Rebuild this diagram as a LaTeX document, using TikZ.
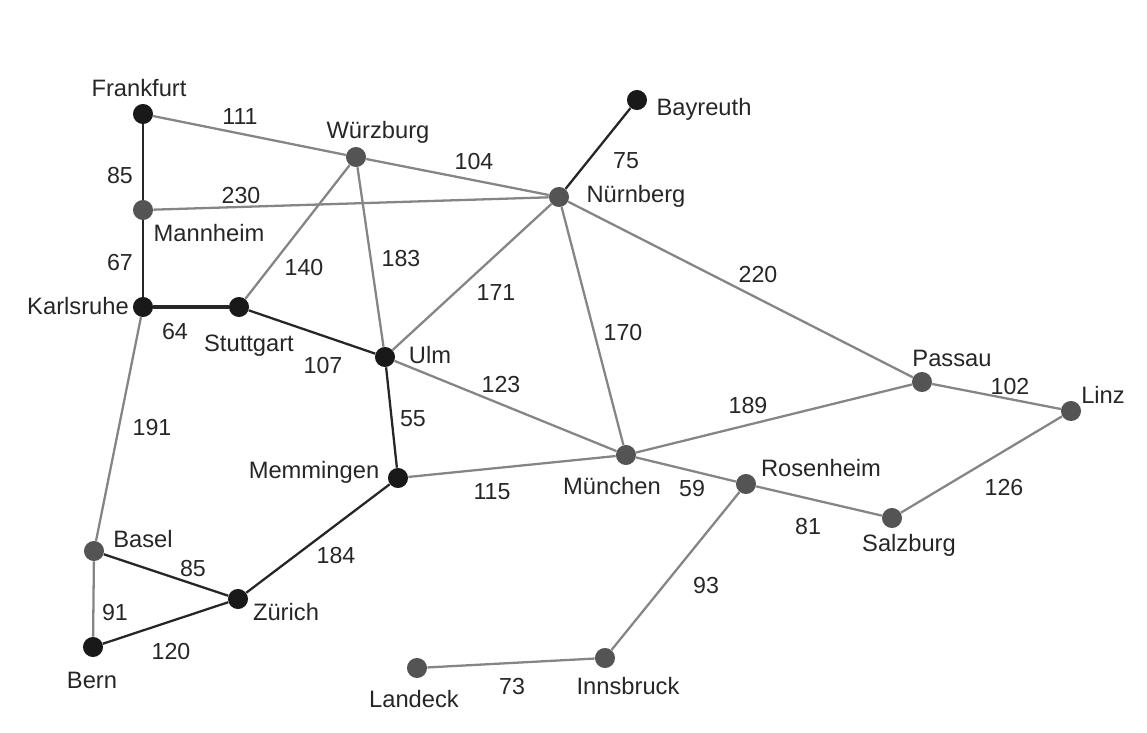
\documentclass[tikz,border=0pt]{standalone}
\usepackage{fontspec}
\setmainfont{Liberation Sans}
\usetikzlibrary{positioning}
\definecolor{roadgray}{gray}{0.52}
\definecolor{citygray}{gray}{0.33}
\definecolor{cityblack}{gray}{0.1}
\tikzset{
  city/.style={
    circle,
    fill=citygray,
    inner sep=0pt,
    minimum size=11.4pt},
  darkcity/.style={
    city,
    fill=cityblack},
  road/.style={draw=roadgray, line width=1.3pt},
  darkroad/.style={draw=black!85, line width=1.3pt},
  citylabel/.style={font=\fontsize{13.5}{15}\selectfont, text=black!85, inner sep=0pt, yshift=-0.8pt},
  distlabel/.style={font=\fontsize{13.2}{15}\selectfont, text=black!85, inner sep=0pt, yshift=-0.6pt},
}

\begin{document}
\begin{tikzpicture}[x=0.02cm,y=-0.02cm]
\useasboundingbox (0,0) rectangle (1147,733);
% cities
\node[darkcity] (Frankfurt) at (143,114) {};
\node[city] (Mannheim) at (143,210) {};
\node[darkcity] (Karlsruhe) at (143,307) {};
\node[darkcity] (Stuttgart) at (239,307) {};
\node[city] (Wuerzburg) at (356,157) {};
\node[city] (Nuernberg) at (559,197) {};
\node[darkcity] (Bayreuth) at (637,100) {};
\node[darkcity] (Ulm) at (385,357) {};
\node[darkcity] (Memmingen) at (398,478) {};
\node[city] (Muenchen) at (626,455) {};
\node[city] (Passau) at (922,382) {};
\node[city] (Linz) at (1071,411) {};
\node[city] (Rosenheim) at (746,484) {};
\node[city] (Salzburg) at (892,518) {};
\node[city] (Innsbruck) at (605,658) {};
\node[city] (Landeck) at (417,668) {};
\node[city] (Basel) at (94,551) {};
\node[darkcity] (Bern) at (93,647) {};
\node[darkcity] (Zuerich) at (238,599) {};

% roads
\draw[darkroad] (Frankfurt) -- (Mannheim);
\draw[darkroad] (Mannheim) -- (Karlsruhe);
\draw[darkroad, line width=2pt] (Karlsruhe) -- (Stuttgart);
\draw[road] (Frankfurt) -- (Wuerzburg);
\draw[road] (Mannheim) -- (Nuernberg);
\draw[road] (Wuerzburg) -- (Nuernberg);
\draw[road] (Wuerzburg) -- (Stuttgart);
\draw[road] (Wuerzburg) -- (Ulm);
\draw[darkroad] (Nuernberg) -- (Bayreuth);
\draw[road] (Nuernberg) -- (Ulm);
\draw[road] (Nuernberg) -- (Muenchen);
\draw[road] (Nuernberg) -- (Passau);
\draw[darkroad] (Stuttgart) -- (Ulm);
\draw[road] (Ulm) -- (Muenchen);
\draw[darkroad] (Ulm) -- (Memmingen);
\draw[road] (Memmingen) -- (Muenchen);
\draw[darkroad] (Memmingen) -- (Zuerich);
\draw[road] (Karlsruhe) -- (Basel);
\draw[darkroad] (Basel) -- (Zuerich);
\draw[road] (Basel) -- (Bern);
\draw[darkroad] (Bern) -- (Zuerich);
\draw[road] (Muenchen) -- (Passau);
\draw[road] (Muenchen) -- (Rosenheim);
\draw[road] (Rosenheim) -- (Salzburg);
\draw[road] (Rosenheim) -- (Innsbruck);
\draw[road] (Innsbruck) -- (Landeck);
\draw[road] (Passau) -- (Linz);
\draw[road] (Linz) -- (Salzburg);

% city names
\node[citylabel] (tFrankfurt) at (139,87) {Frankfurt};
\node[citylabel] (tMannheim) at (209,232) {Mannheim};
\node[citylabel] (tKarlsruhe) at (78,305) {Karlsruhe};
\node[citylabel] (tStuttgart) at (249,344) {Stuttgart};
\node[citylabel] (tWuerzburg) at (378,131) {Würzburg};
\node[citylabel] (tNuernberg) at (636,195) {Nürnberg};
\node[citylabel] (tBayreuth) at (704,108) {Bayreuth};
\node[citylabel] (tUlm) at (430,354) {Ulm};
\node[citylabel] (tMemmingen) at (314,471) {Memmingen};
\node[citylabel] (tMuenchen) at (612,485) {München};
\node[citylabel] (tPassau) at (952,357) {Passau};
\node[citylabel] (tLinz) at (1103,394) {Linz};
\node[citylabel] (tRosenheim) at (821,467) {Rosenheim};
\node[citylabel] (tSalzburg) at (909,544) {Salzburg};
\node[citylabel] (tInnsbruck) at (628,685) {Innsbruck};
\node[citylabel] (tLandeck) at (414,698) {Landeck};
\node[citylabel] (tBasel) at (143,538) {Basel};
\node[citylabel] (tBern) at (92,679) {Bern};
\node[citylabel] (tZuerich) at (286,611) {Zürich};

% distances
\node[distlabel] (d1) at (240,115) {111};
\node[distlabel] (d2) at (120,174) {85};
\node[distlabel] (d3) at (241,194) {230};
\node[distlabel] (d4) at (474,160) {104};
\node[distlabel] (d5) at (626,160) {75};
\node[distlabel] (d6) at (120,261) {67};
\node[distlabel] (d7) at (304,266) {140};
\node[distlabel] (d8) at (401,257) {183};
\node[distlabel] (d9) at (758,273) {220};
\node[distlabel] (d10) at (496,291) {171};
\node[distlabel] (d11) at (175,330) {64};
\node[distlabel] (d12) at (623,331) {170};
\node[distlabel] (d13) at (323,364) {107};
\node[distlabel] (d14) at (501,383) {123};
\node[distlabel] (d15) at (413,418) {55};
\node[distlabel] (d16) at (152,426) {191};
\node[distlabel] (d17) at (748,404) {189};
\node[distlabel] (d18) at (1010,385) {102};
\node[distlabel] (d19) at (1004,486) {126};
\node[distlabel] (d20) at (492,491) {115};
\node[distlabel] (d21) at (692,487) {59};
\node[distlabel] (d22) at (808,525) {81};
\node[distlabel] (d23) at (193,567) {85};
\node[distlabel] (d24) at (336,554) {184};
\node[distlabel] (d25) at (115,611) {91};
\node[distlabel] (d26) at (706,584) {93};
\node[distlabel] (d27) at (171,650) {120};
\node[distlabel] (d28) at (512,685) {73};
\end{tikzpicture}
\end{document}
